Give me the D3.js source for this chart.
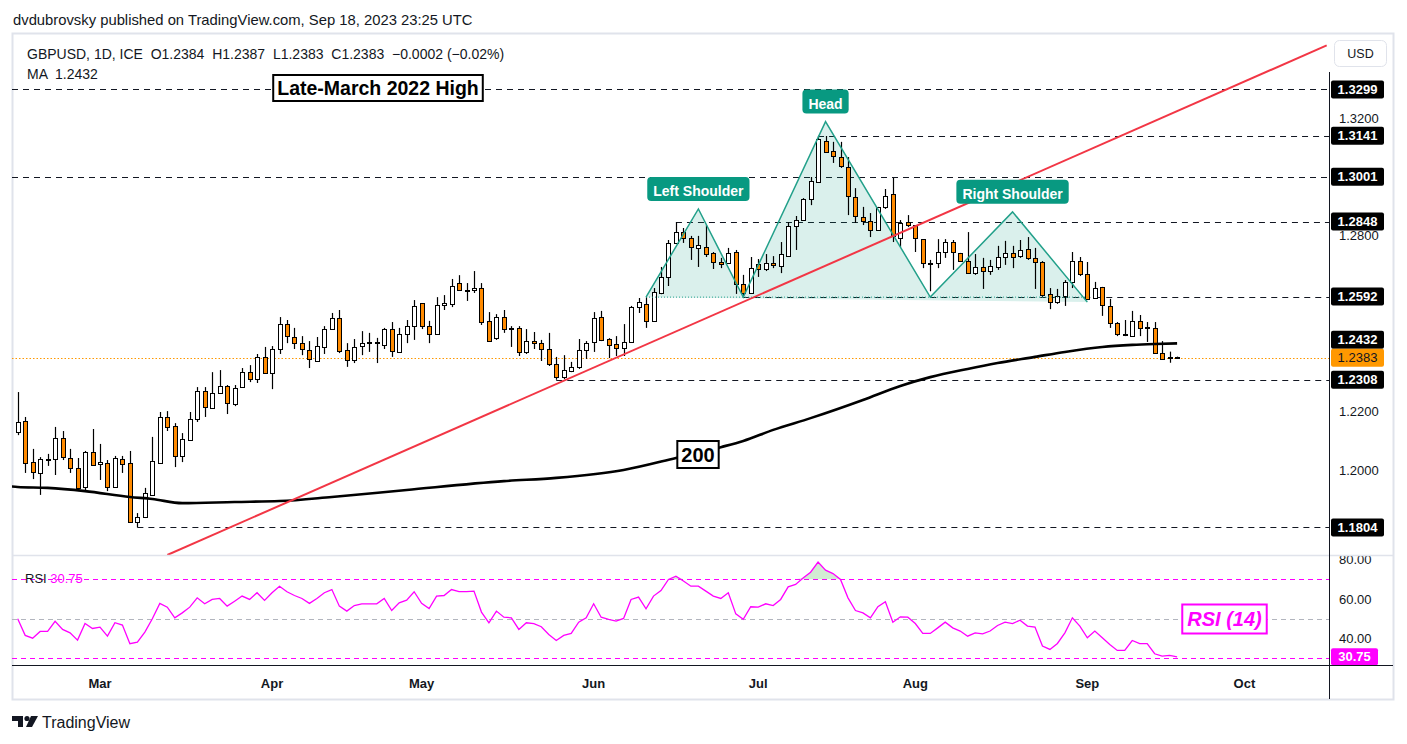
<!DOCTYPE html>
<html><head><meta charset="utf-8">
<script src="https://cdn.jsdelivr.net/npm/d3@7"></script>
<style>
html,body{margin:0;padding:0;background:#fff;}
svg{display:block;font-family:"Liberation Sans",Arial,sans-serif;}
text{white-space:pre;}
</style></head><body>
<svg id="c" width="1407" height="744"></svg>
<script>
// ---------------- DATA ----------------
const firstBarDate = "2023-02-14";
const openP = [1.2130,1.2167,1.2027,1.1990,1.2034,1.2038,1.2109,1.2041,1.2007,1.1942,
1.2061,1.2020,1.2024,1.1942,1.2038,1.2024,1.1823,1.1840,1.1915,1.2024,
1.2181,1.2150,1.2048,1.2102,1.2174,1.2270,1.2212,1.2263,1.2287,1.2225,
1.2283,1.2334,1.2311,1.2386,1.2331,1.2413,1.2498,1.2454,1.2433,1.2410,
1.2372,1.2420,1.2481,1.2519,1.2410,1.2375,1.2423,1.2433,1.2433,1.2427,
1.2481,1.2403,1.2464,1.2491,1.2570,1.2491,1.2464,1.2563,1.2567,1.2638,
1.2614,1.2614,1.2621,1.2509,1.2450,1.2522,1.2481,1.2485,1.2403,1.2440,
1.2433,1.2413,1.2362,1.2317,1.2338,1.2352,1.2410,1.2437,1.2522,1.2447,
1.2430,1.2416,1.2437,1.2556,1.2567,1.2509,1.2604,1.2659,1.2775,1.2812,
1.2792,1.2758,1.2761,1.2741,1.2710,1.2706,1.2744,1.2635,1.2604,1.2703,
1.2686,1.2707,1.2696,1.2730,1.2833,1.2853,1.2925,1.2983,1.3123,1.3089,
1.3068,1.3034,1.2932,1.2864,1.2850,1.2819,1.2898,1.2942,1.2792,1.2846,
1.2836,1.2788,1.2706,1.2706,1.2744,1.2778,1.2741,1.2713,1.2672,1.2693,
1.2679,1.2693,1.2727,1.2741,1.2730,1.2754,1.2724,1.2710,1.2600,1.2573,
1.2594,1.2642,1.2713,1.2669,1.2587,1.2625,1.2560,1.2502,1.2464,1.2457,
1.2509,1.2485,1.2485,1.2399,1.2381,1.2384];
const highP = [1.2266,1.2181,1.2072,1.2044,1.2055,1.2147,1.2133,1.2072,1.2041,1.2065,
1.2140,1.2089,1.2034,1.2048,1.2048,1.2065,1.1853,1.1939,1.2113,1.2198,
1.2201,1.2160,1.2126,1.2198,1.2283,1.2283,1.2334,1.2341,1.2290,1.2290,
1.2348,1.2358,1.2396,1.2420,1.2423,1.2522,1.2512,1.2485,1.2457,1.2440,
1.2454,1.2491,1.2536,1.2546,1.2433,1.2447,1.2474,1.2468,1.2451,1.2485,
1.2505,1.2485,1.2512,1.2580,1.2570,1.2509,1.2590,1.2597,1.2652,1.2665,
1.2638,1.2679,1.2638,1.2539,1.2532,1.2546,1.2491,1.2491,1.2481,1.2471,
1.2444,1.2468,1.2386,1.2392,1.2369,1.2447,1.2440,1.2539,1.2543,1.2450,
1.2457,1.2498,1.2560,1.2587,1.2590,1.2621,1.2693,1.2785,1.2846,1.2826,
1.2799,1.2799,1.2836,1.2744,1.2724,1.2758,1.2751,1.2666,1.2727,1.2720,
1.2737,1.2730,1.2778,1.2846,1.2867,1.2928,1.3000,1.3141,1.3140,1.3120,
1.3120,1.3068,1.2962,1.2898,1.2877,1.2898,1.2959,1.2997,1.2853,1.2870,
1.2836,1.2788,1.2717,1.2788,1.2788,1.2785,1.2741,1.2812,1.2737,1.2724,
1.2717,1.2765,1.2782,1.2765,1.2785,1.2795,1.2758,1.2713,1.2621,1.2618,
1.2648,1.2744,1.2727,1.2710,1.2642,1.2625,1.2584,1.2505,1.2512,1.2543,
1.2529,1.2505,1.2505,1.2440,1.2404,1.2387];
const lowP = [1.2119,1.1990,1.1969,1.1915,1.2014,1.1983,1.2034,1.1990,1.1928,1.1928,
1.2017,1.1966,1.1928,1.1942,1.1990,1.1823,1.1804,1.1836,1.1915,1.2024,
1.2133,1.2010,1.2027,1.2099,1.2164,1.2181,1.2212,1.2263,1.2191,1.2218,
1.2283,1.2300,1.2297,1.2328,1.2276,1.2396,1.2433,1.2413,1.2392,1.2348,
1.2372,1.2396,1.2481,1.2399,1.2352,1.2365,1.2392,1.2403,1.2365,1.2413,
1.2386,1.2403,1.2433,1.2444,1.2481,1.2433,1.2464,1.2546,1.2556,1.2611,
1.2577,1.2604,1.2495,1.2440,1.2444,1.2468,1.2420,1.2389,1.2396,1.2413,
1.2372,1.2355,1.2308,1.2310,1.2334,1.2345,1.2379,1.2403,1.2440,1.2382,
1.2389,1.2389,1.2437,1.2536,1.2485,1.2509,1.2600,1.2628,1.2775,1.2775,
1.2717,1.2693,1.2727,1.2686,1.2689,1.2706,1.2601,1.2592,1.2601,1.2659,
1.2679,1.2689,1.2672,1.2730,1.2751,1.2853,1.2904,1.2983,1.3082,1.3048,
1.3031,1.2870,1.2843,1.2836,1.2795,1.2816,1.2891,1.2778,1.2761,1.2829,
1.2744,1.2689,1.2610,1.2689,1.2724,1.2683,1.2713,1.2672,1.2666,1.2618,
1.2666,1.2683,1.2700,1.2689,1.2724,1.2717,1.2618,1.2590,1.2549,1.2567,
1.2560,1.2621,1.2662,1.2580,1.2584,1.2526,1.2485,1.2457,1.2457,1.2457,
1.2457,1.2437,1.2396,1.2379,1.2366,1.2383];
const closeP = [1.2164,1.2024,1.1993,1.2038,1.2038,1.2109,1.2044,1.2007,1.1939,1.2061,
1.2017,1.2027,1.1942,1.2041,1.2020,1.1823,1.1840,1.1922,1.2031,1.2181,
1.2147,1.2048,1.2106,1.2174,1.2270,1.2215,1.2263,1.2287,1.2229,1.2280,
1.2334,1.2311,1.2386,1.2331,1.2413,1.2498,1.2457,1.2433,1.2413,1.2379,
1.2423,1.2481,1.2519,1.2406,1.2375,1.2420,1.2433,1.2437,1.2437,1.2481,
1.2406,1.2464,1.2491,1.2560,1.2491,1.2464,1.2563,1.2570,1.2628,1.2614,
1.2615,1.2621,1.2505,1.2440,1.2522,1.2481,1.2484,1.2403,1.2440,1.2433,
1.2413,1.2362,1.2317,1.2341,1.2352,1.2410,1.2433,1.2519,1.2444,1.2427,
1.2416,1.2437,1.2556,1.2573,1.2509,1.2607,1.2659,1.2775,1.2812,1.2792,
1.2761,1.2768,1.2737,1.2710,1.2703,1.2741,1.2635,1.2604,1.2689,1.2686,
1.2707,1.2700,1.2737,1.2833,1.2853,1.2925,1.2986,1.3130,1.3085,1.3072,
1.3038,1.2935,1.2867,1.2850,1.2819,1.2898,1.2935,1.2799,1.2843,1.2836,
1.2792,1.2706,1.2707,1.2744,1.2778,1.2744,1.2713,1.2672,1.2693,1.2679,
1.2696,1.2727,1.2741,1.2727,1.2751,1.2724,1.2710,1.2597,1.2573,1.2594,
1.2642,1.2713,1.2669,1.2584,1.2621,1.2563,1.2502,1.2464,1.2461,1.2509,
1.2485,1.2488,1.2399,1.2379,1.2384,1.2383];
const rsiValues = [50.0,41.6,40.2,43.6,43.6,48.7,44.6,42.9,39.2,47.6,
45.1,45.8,41.2,48.0,46.8,37.4,38.2,43.3,50.0,57.8,
55.9,50.5,53.0,55.9,60.6,57.6,59.8,60.3,56.4,58.9,
61.5,59.8,63.2,59.3,63.2,66.5,63.7,61.8,60.3,57.8,
60.3,63.2,64.8,56.4,53.9,56.7,57.6,57.6,57.6,60.3,
54.2,58.1,59.4,63.7,57.8,55.2,61.5,61.8,64.8,63.8,
63.8,64.0,53.4,48.0,53.9,50.8,50.5,44.6,48.0,47.6,
46.0,42.1,39.0,41.6,42.6,48.3,50.5,57.6,50.8,49.7,
48.8,50.2,59.8,61.0,55.1,61.5,64.3,69.9,71.6,69.1,
66.5,66.5,64.0,61.5,60.3,63.2,52.5,49.7,56.1,55.9,
57.6,56.7,59.8,66.2,67.4,70.7,73.6,78.7,74.6,72.9,
69.9,60.6,54.2,53.0,50.5,56.1,58.6,48.3,51.0,50.8,
47.6,42.6,42.6,45.4,48.3,45.4,43.8,41.2,42.9,42.4,
43.8,46.6,48.3,47.6,49.3,46.3,45.8,36.2,34.5,37.5,
42.9,50.5,46.3,40.4,43.8,40.4,37.0,34.0,34.0,39.0,
37.4,37.4,32.3,31.1,31.5,30.75];
// 200-day moving average, read at selected bars
const maBars   = [-1,0,4,9,15,18,22,29,35,42,52,65,72,81,88,94,97,101,106,113,118,122,127,131,136,140,145,149,152,155];
const maValues = [1.1944,1.1942,1.1939,1.1928,1.1908,1.1901,1.1887,1.1891,1.1894,1.1908,1.1932,1.1962,1.1973,1.2000,1.2041,1.2078,1.2099,1.2137,1.2177,1.2239,1.2287,1.2317,1.2345,1.2365,1.2386,1.2403,1.2420,1.2427,1.2430,1.2432];
// horizontal levels and the bar where each starts (null = full width)
const levelValues = [1.3299,1.3141,1.3001,1.2848,1.2592,1.2308,1.1804];
const levelStartBar = [null,107,null,88,97,72,16];
const lastPrice = 1.2383, lastMA = 1.2432, lastRSI = 30.75;
const priceTicks = [1.32,1.28,1.22,1.20];
const rsiTicks = [80,60,40];
const rsiLevels = [70,50,30];
// trendline anchors [bar, price]
const trendBars = [20,175];
const trendPrices = [1.17099,1.34491];
// head & shoulders pattern anchors
const hsBars   = [84,91,97,108,122,133,143];
const hsPrices = [1.2590,1.2891,1.2590,1.3189,1.2590,1.2881,1.2573];
const hsLabels = [[1,"Left Shoulder"],[3,"Head"],[5,"Right Shoulder"]];
const headerTitle = "dvdubrovsky published on TradingView.com, Sep 18, 2023 23:25 UTC";
const headerLine = "GBPUSD, 1D, ICE  O1.2384  H1.2387  L1.2383  C1.2383  \u22120.0002 (\u22120.02%)";
const maLegend = "MA  1.2432";

// ---------------- LAYOUT ----------------
const L=12, R=1330, T=35, PB=555, RT=556, RB=665, AB=699, FR=1393;
const nBars = closeP.length;
const x = d3.scaleLinear().domain([0,155]).range([17.7,17.7+7.48*155]);
const y = d3.scaleLinear().domain([1.2,1.32]).range([470,118.4]);
const yr = d3.scaleLinear().domain([30,70]).range([658.3,579.3]);
const svg = d3.select("#c");
const defs = svg.append("defs");
defs.append("clipPath").attr("id","cp").append("rect").attr("x",L).attr("y",T).attr("width",R-L).attr("height",PB-T);
defs.append("clipPath").attr("id","cr").append("rect").attr("x",L).attr("y",RT).attr("width",R-L).attr("height",RB-RT);
defs.append("clipPath").attr("id","cra").append("rect").attr("x",R).attr("y",RT).attr("width",FR-R).attr("height",RB-RT);

// trading calendar (weekdays)
const days=[]; {let d=new Date(firstBarDate+"T00:00:00Z"); while(days.length<175){const wd=d.getUTCDay(); if(wd!==0&&wd!==6) days.push(new Date(d)); d.setUTCDate(d.getUTCDate()+1);}}
const monthTicks=[]; for(let k=1;k<days.length;k++){ if(days[k].getUTCMonth()!==days[k-1].getUTCMonth()) monthTicks.push(k); }

// title
svg.append("text").attr("x",13).attr("y",25).attr("font-size",14.8).attr("fill","#131722").text(headerTitle);
// frame
svg.append("rect").attr("x",12.5).attr("y",33.5).attr("width",FR-12).attr("height",AB-33).attr("fill","none").attr("stroke","#e0e3eb").attr("stroke-width",2);

const pane = svg.append("g").attr("clip-path","url(#cp)");
// level lines
levelValues.forEach((v,k)=>{
  const yy=Math.round(y(v))+0.5;
  pane.append("line").attr("x1",levelStartBar[k]===null?L:x(levelStartBar[k])).attr("x2",R).attr("y1",yy).attr("y2",yy)
    .attr("stroke","#131722").attr("stroke-width",1).attr("stroke-dasharray","6,5");
});
// current price dotted
pane.append("line").attr("x1",L).attr("x2",R).attr("y1",Math.round(y(lastPrice))+0.5).attr("y2",Math.round(y(lastPrice))+0.5)
  .attr("stroke","#ff9800").attr("stroke-width",1).attr("stroke-dasharray","1.5,2");

// H&S fill
const hsPts = hsBars.map((b,k)=>[x(b),y(hsPrices[k])]);
pane.append("path").attr("d","M"+hsPts.map(p=>p.join(",")).join("L")+"Z").attr("fill","rgba(8,153,129,0.15)").attr("stroke","none");

// candles
const cg = pane.append("g");
for(let i=0;i<nBars;i++){
  const c=Math.round(x(i));
  const o=openP[i], h=highP[i], l=lowP[i], cl=closeP[i];
  cg.append("line").attr("x1",c+0.5).attr("x2",c+0.5).attr("y1",y(h)).attr("y2",y(l)).attr("stroke","#000").attr("stroke-width",1.2);
  const top=Math.round(y(Math.max(o,cl))), bot=Math.round(y(Math.min(o,cl)));
  cg.append("rect").attr("x",c-1.5).attr("y",top+0.5).attr("width",4).attr("height",Math.max(bot-top,1))
    .attr("fill",cl>=o?"#ffffff":"#ff8a00").attr("stroke","#000").attr("stroke-width",1);
}
// MA
const maData = maBars.map((b,k)=>[b,maValues[k]]);
pane.append("path").datum(maData).attr("d",d3.line().x(d=>x(d[0])).y(d=>y(d[1])).curve(d3.curveMonotoneX))
  .attr("fill","none").attr("stroke","#000").attr("stroke-width",2.6);
// H&S outline
pane.append("path").attr("d","M"+hsPts.map(p=>p.join(",")).join("L")).attr("fill","none").attr("stroke","#22a08a").attr("stroke-width",1.5);
pane.append("line").attr("x1",hsPts[0][0]).attr("x2",hsPts[6][0]).attr("y1",y(hsPrices[0])).attr("y2",y(hsPrices[0]))
  .attr("stroke","#22a08a").attr("stroke-width",1).attr("stroke-dasharray","1,2");
// trendline
pane.append("line").attr("x1",x(trendBars[0])).attr("y1",y(trendPrices[0])).attr("x2",x(trendBars[1])).attr("y2",y(trendPrices[1]))
  .attr("stroke","#f23645").attr("stroke-width",2);

// H&S labels
hsLabels.forEach(([k,t])=>{
  const px=hsPts[k][0], py=hsPts[k][1];
  const g=svg.append("g");
  const tx=g.append("text").attr("x",px).attr("y",py-13).attr("text-anchor","middle").attr("font-size",14).attr("font-weight","bold").attr("fill","#fff").text(t);
  const w=tx.node().getComputedTextLength()+12;
  g.insert("rect","text").attr("x",px-w/2).attr("y",py-32).attr("width",w).attr("height",24).attr("rx",4).attr("fill","#089981");
});

// annotation boxes
function boxLabel(cx,cy,txt,opts){
  const g=svg.append("g");
  const tx=g.append("text").attr("x",cx).attr("y",cy).attr("dy","0.36em").attr("text-anchor","middle")
    .attr("font-size",opts.size).attr("font-weight","bold").attr("font-style",opts.italic?"italic":"normal").attr("fill",opts.color).text(txt);
  const w=tx.node().getComputedTextLength()+opts.pad*2;
  g.insert("rect","text").attr("x",cx-w/2).attr("y",cy-opts.h/2).attr("width",w).attr("height",opts.h)
    .attr("fill","#fff").attr("stroke",opts.color).attr("stroke-width",2);
}
boxLabel(378,88,"Late-March 2022 High",{size:19.5,color:"#000",pad:4,h:26});
boxLabel(698,454.5,"200",{size:20,color:"#000",pad:4,h:27});

// header legend
svg.append("text").attr("x",27).attr("y",59).attr("font-size",14).attr("fill","#131722").text(headerLine);
svg.append("text").attr("x",27).attr("y",79).attr("font-size",14).attr("fill","#131722").text(maLegend);

// USD button
svg.append("rect").attr("x",1334.5).attr("y",40.5).attr("width",52).attr("height",26).attr("rx",5).attr("fill","#fff").attr("stroke","#e0e3eb");
svg.append("text").attr("x",1360.5).attr("y",58).attr("text-anchor","middle").attr("font-size",12.5).attr("fill","#131722").text("USD");

// price axis tick labels
const pAxis = svg.append("g").attr("transform",`translate(${R},0)`)
  .call(d3.axisRight(y).tickValues(priceTicks).tickFormat(d3.format(".4f")).tickSize(0).tickPadding(9));
pAxis.select(".domain").remove();
pAxis.selectAll("text").attr("font-size",13).attr("fill","#131722").attr("font-family","Liberation Sans, Arial, sans-serif");

// level labels on axis
function axisLabel(cy,txt,bg,fg,bold,w){
  svg.append("rect").attr("x",R+1).attr("y",cy-9).attr("width",w||53).attr("height",18).attr("rx",2).attr("fill",bg);
  svg.append("text").attr("x",R+1+(w||53)/2).attr("y",cy).attr("dy","0.36em").attr("text-anchor","middle")
    .attr("font-size",13).attr("font-weight",bold?"bold":"normal").attr("fill",fg).text(txt);
}
levelValues.forEach(v=>axisLabel(y(v),d3.format(".4f")(v),"#000","#fff",true));
axisLabel(Math.min(y(lastMA),y(lastPrice)-18),d3.format(".4f")(lastMA),"#000","#fff",true);
axisLabel(y(lastPrice),d3.format(".4f")(lastPrice),"#ff9800","#131722",false);

// RSI pane
const rp = svg.append("g").attr("clip-path","url(#cr)");
rsiLevels.forEach(v=>{
  rp.append("line").attr("x1",L).attr("x2",R).attr("y1",Math.round(yr(v))+0.5).attr("y2",Math.round(yr(v))+0.5)
    .attr("stroke",v===50?"#b2b5be":"#ff00ff").attr("stroke-width",1).attr("stroke-dasharray","5,4");
});
const rsiData = rsiValues.map((v,i)=>[i,v]);
rp.append("path").datum(rsiData).attr("d",d3.area().x(d=>x(d[0])).y0(yr(70)).y1(d=>Math.min(yr(d[1]),yr(70))))
  .attr("fill","rgba(76,175,80,0.25)");
rp.append("path").datum(rsiData).attr("d",d3.line().x(d=>x(d[0])).y(d=>yr(d[1])))
  .attr("fill","none").attr("stroke","#ff00ff").attr("stroke-width",1.3);
const rl = svg.append("text").attr("x",25).attr("y",583).attr("font-size",13);
rl.append("tspan").attr("fill","#131722").text("RSI ");
rl.append("tspan").attr("fill","#ff00ff").text(d3.format(".2f")(lastRSI));
// RSI (14) box
{
  const g=svg.append("g");
  const cx=1224.5, cy=618.5;
  const tx=g.append("text").attr("x",cx).attr("y",cy).attr("dy","0.36em").attr("text-anchor","middle")
    .attr("font-size",20).attr("font-weight","bold").attr("font-style","italic").attr("fill","#ff00ff").text("RSI (14)");
  const w=tx.node().getComputedTextLength()+10;
  g.insert("rect","text").attr("x",cx-w/2).attr("y",cy-14).attr("width",w).attr("height",29).attr("fill","#fff").attr("stroke","#ff00ff").attr("stroke-width",2);
}
const rAxis = svg.append("g").attr("clip-path","url(#cra)").append("g").attr("transform",`translate(${R},0)`)
  .call(d3.axisRight(yr).tickValues(rsiTicks).tickFormat(d3.format(".2f")).tickSize(0).tickPadding(9));
rAxis.select(".domain").remove();
rAxis.selectAll("text").attr("font-size",13).attr("fill","#131722").attr("font-family","Liberation Sans, Arial, sans-serif");
svg.append("rect").attr("x",R+1).attr("y",yr(lastRSI)-8.5).attr("width",47).attr("height",17).attr("rx",2).attr("fill","#ff00ff");
svg.append("text").attr("x",R+24.5).attr("y",yr(lastRSI)).attr("dy","0.36em").attr("text-anchor","middle").attr("font-size",13).attr("font-weight","bold").attr("fill","#fff").text(d3.format(".2f")(lastRSI));

// separators & axis lines
svg.append("line").attr("x1",L).attr("x2",FR).attr("y1",555.5).attr("y2",555.5).attr("stroke","#e0e3eb").attr("stroke-width",1.5);
svg.append("line").attr("x1",L).attr("x2",FR).attr("y1",RB+0.5).attr("y2",RB+0.5).attr("stroke","#131722").attr("stroke-width",1);
svg.append("line").attr("x1",R-0.5).attr("x2",R-0.5).attr("y1",72).attr("y2",AB).attr("stroke","#131722").attr("stroke-width",1);

// time axis
const fmt=d3.utcFormat("%b");
monthTicks.forEach(k=>{
  if(x(k)>R-20) return;
  svg.append("text").attr("x",x(k)).attr("y",688).attr("text-anchor","middle").attr("font-size",13).attr("font-weight","bold").attr("fill","#131722").text(fmt(days[k]));
});

// TradingView logo
const lg=svg.append("g").attr("fill","#131722");
lg.append("path").attr("d","M12,716 h11 v11 h-5 v-6 h-6 z");
lg.append("circle").attr("cx",27).attr("cy",718.5).attr("r",2.6);
lg.append("path").attr("d","M31,716 h7 l-6,11 h-6 z");
svg.append("text").attr("x",42).attr("y",728).attr("font-size",16).attr("fill","#131722").text("TradingView");
</script>
</body></html>
